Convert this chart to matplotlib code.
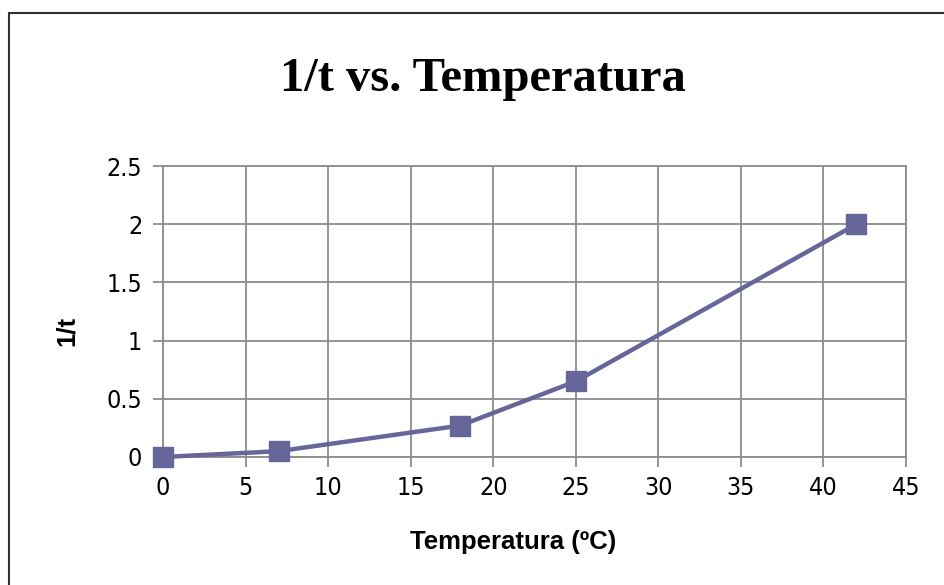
import matplotlib
matplotlib.use("Agg")
import matplotlib.pyplot as plt
from matplotlib.patches import Rectangle

# temperature (C) and inverse reaction time
temperatura = [0, 7, 18, 25, 42]
inv_t = [0.0, 0.05, 0.27, 0.65, 2.0]

xticks = [0, 5, 10, 15, 20, 25, 30, 35, 40, 45]
yticks = [0, 0.5, 1, 1.5, 2, 2.5]
ytick_labels = ["0", "0.5", "1", "1.5", "2", "2.5"]

line_col = "#66669a"
grid_col = "#8c8c8c"

fig = plt.figure(figsize=(9.45, 5.85), dpi=100)
fig.patch.set_facecolor("white")

# outer chart frame (right/bottom edges fall outside the canvas)
fig.patches.append(Rectangle((9 / 945, -0.1), 1.2, 1 - 13 / 585 + 0.1,
                             transform=fig.transFigure, fill=False,
                             edgecolor="#303030", linewidth=1.5))

ax = fig.add_axes([163 / 945, 1 - 457 / 585, (906 - 163) / 945, (457 - 166) / 585])

ax.plot(temperatura, inv_t, color=line_col, linewidth=3.2, marker="s",
        markersize=14, markerfacecolor=line_col, markeredgecolor=line_col,
        zorder=5, clip_on=False)

ax.set_xlim(0, 45)
ax.set_ylim(0, 2.5)
ax.set_xticks(xticks)
ax.set_yticks(yticks)
ax.set_yticklabels(ytick_labels)
ax.grid(True, color=grid_col, linewidth=1.3)
ax.set_axisbelow(True)

for s in ax.spines.values():
    s.set_color(grid_col)
    s.set_linewidth(1.3)

ax.tick_params(axis="both", direction="out", length=7, width=1.3,
               color=grid_col, labelcolor="black")
ax.tick_params(axis="x", pad=7)
ax.tick_params(axis="y", pad=8)
for lab in ax.get_xticklabels() + ax.get_yticklabels():
    lab.set_fontfamily("DejaVu Sans")
    lab.set_fontstretch("condensed")
    lab.set_fontsize(18)

ax.set_xlabel("Temperatura (ºC)", fontsize=18.5, fontweight="bold",
              family="Liberation Sans", va="center")
ax.set_ylabel("1/t", fontsize=18.5, fontweight="bold",
              family="Liberation Sans", va="center")
ax.xaxis.set_label_coords(0.471, -0.292)
ax.yaxis.set_label_coords(-0.129, 0.433)

fig.text(483 / 945, 1 - 79 / 585, "1/t vs. Temperatura", ha="center", va="center",
         fontsize=35, fontweight="bold", family="Liberation Serif")

fig.savefig("out.png", dpi=100)
